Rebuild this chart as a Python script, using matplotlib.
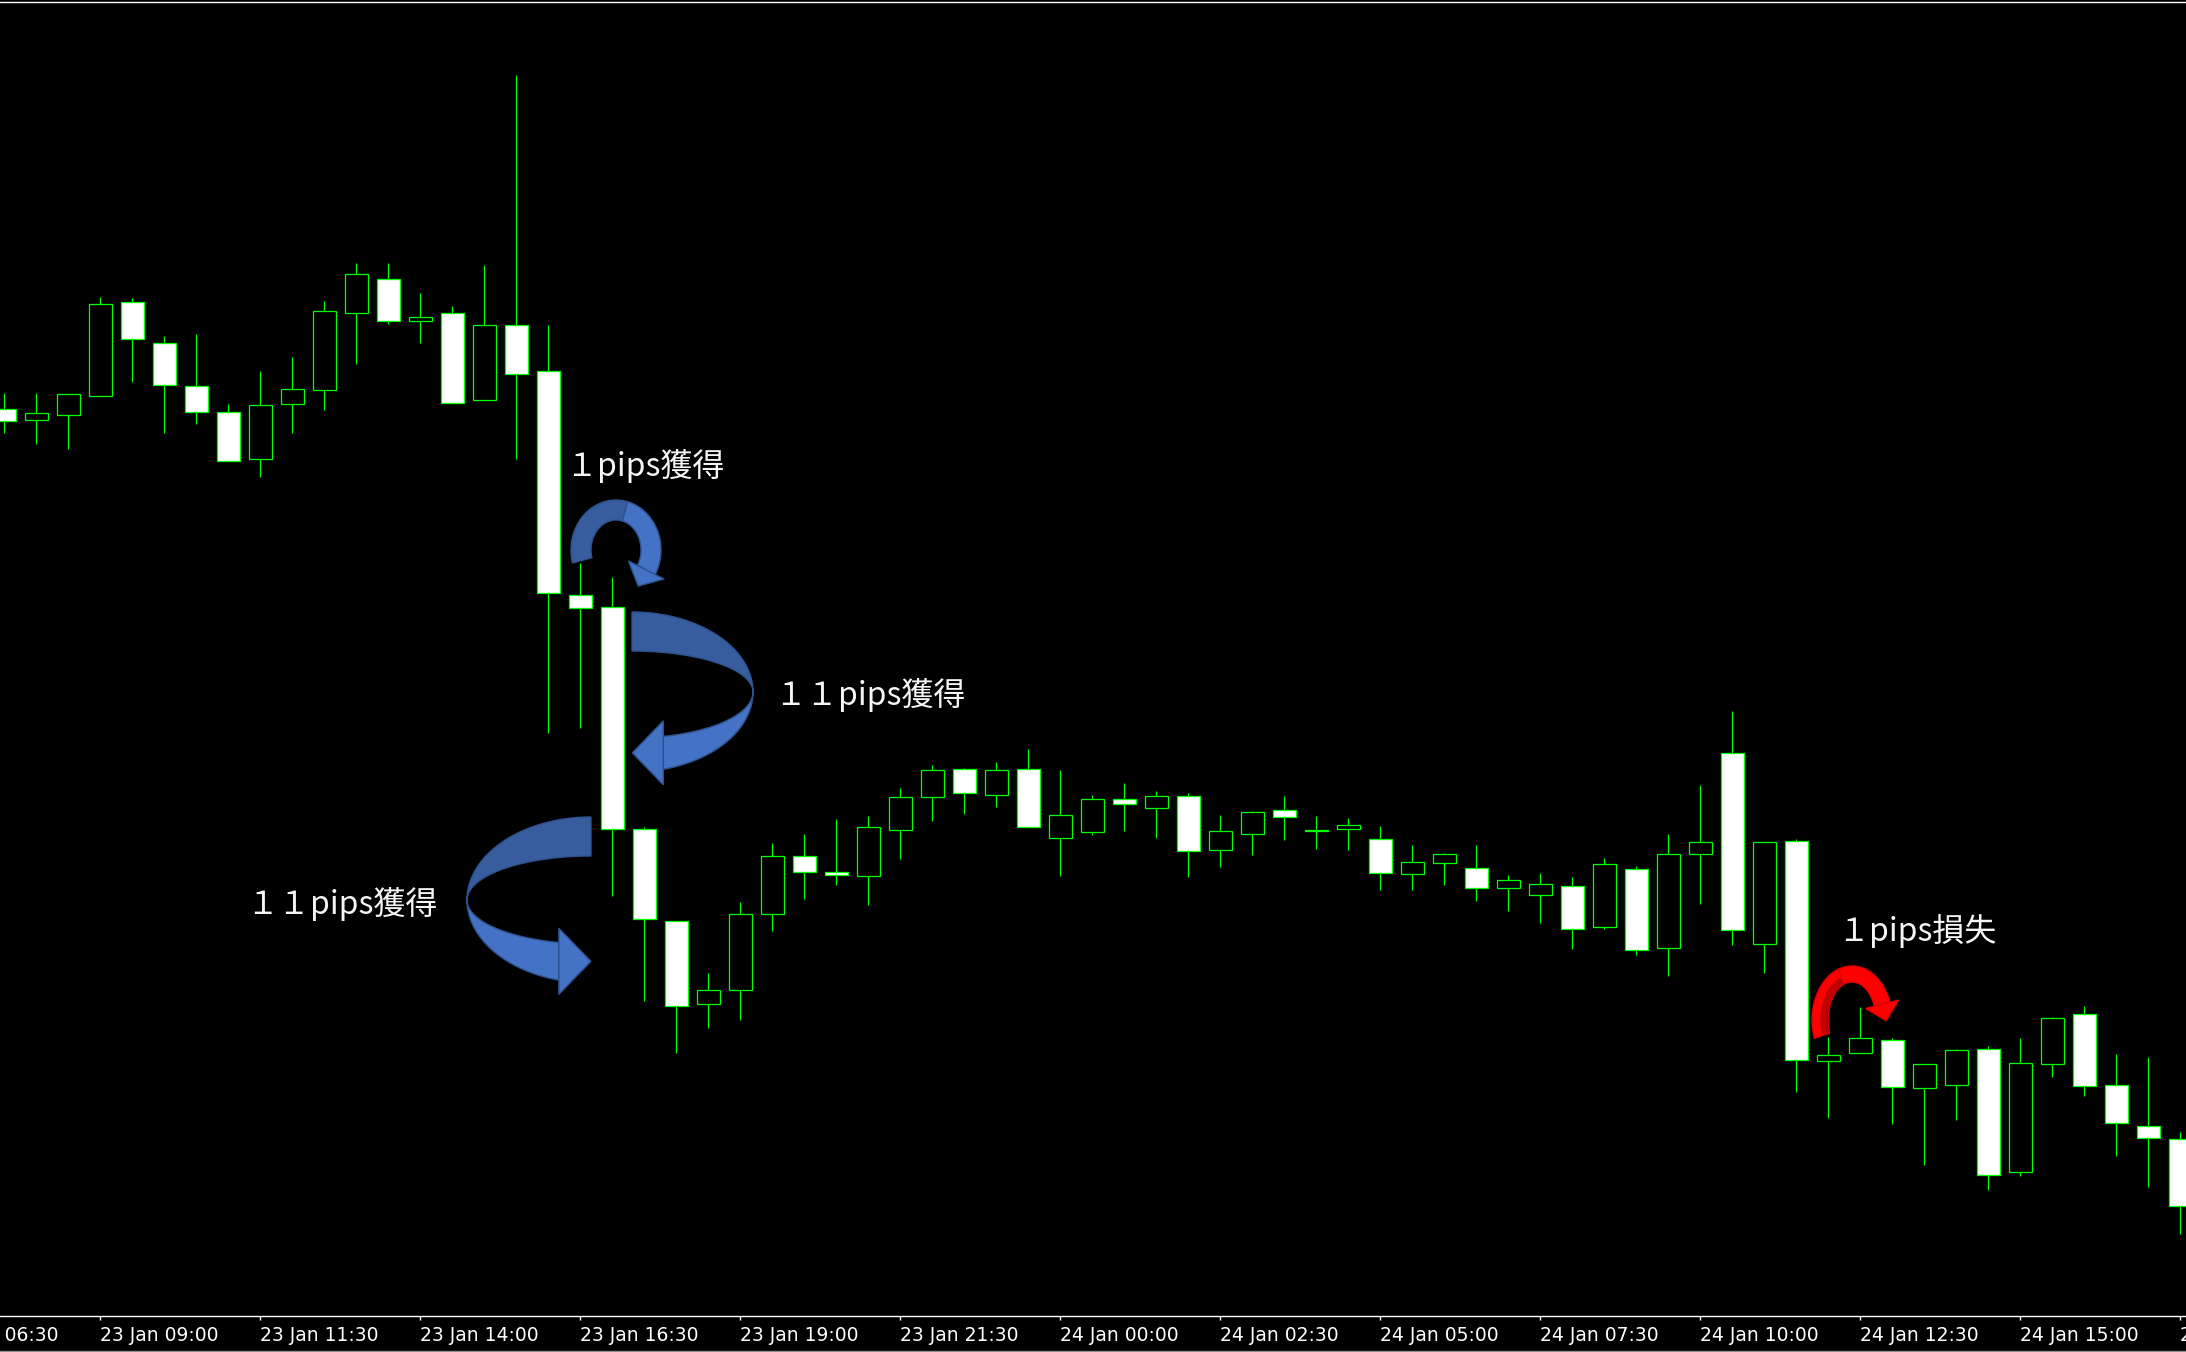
import numpy as np
import matplotlib
matplotlib.use("Agg")
import matplotlib.pyplot as plt
from matplotlib.patches import Polygon

# 30 minute candles, 23 Jan 07:30 onward (price in chart points)
opens = [943, 932, 937, 956, 1050, 1009, 966, 940, 893, 948, 962, 1039, 1073, 1031, 1039, 952, 1027,
         981, 757, 745, 523, 431, 348, 362, 438, 496, 480, 476, 522, 555, 583, 557, 583, 514, 520,
         553, 544, 556, 502, 518, 542, 521, 523, 513, 478, 489, 484, 464, 457, 466, 425, 483, 404,
         498, 599, 408, 511, 291, 299, 312, 264, 267, 303, 180, 288, 338, 267, 226, 213]
highs = [959, 959, 958, 1055, 1054, 1016, 1018, 948, 981, 995, 1051, 1089, 1089, 1059, 1046, 1087, 1277,
         1027, 789, 775, 525, 431, 379, 450, 509, 518, 533, 536, 564, 587, 584, 590, 603, 582, 557,
         569, 561, 559, 537, 541, 556, 536, 534, 526, 507, 499, 507, 477, 479, 475, 494, 486, 518,
         567, 641, 510, 513, 315, 345, 314, 288, 303, 306, 314, 335, 346, 298, 295, 220]
lows = [919, 908, 903, 956, 970, 919, 928, 891, 875, 919, 942, 988, 1028, 1009, 949, 952, 893,
        619, 624, 456, 351, 299, 324, 332, 421, 453, 467, 447, 493, 531, 538, 545, 525, 476, 517,
        521, 514, 475, 485, 497, 512, 503, 502, 462, 462, 467, 451, 441, 429, 403, 423, 397, 376,
        448, 407, 379, 260, 234, 299, 228, 187, 232, 162, 176, 275, 256, 196, 165, 118]
closes = [931, 939, 958, 1048, 1013, 967, 940, 891, 947, 963, 1041, 1078, 1031, 1035, 949, 1027, 978,
          759, 744, 523, 433, 346, 362, 438, 496, 480, 477, 525, 555, 582, 559, 582, 525, 537, 553,
          548, 556, 501, 521, 540, 535, 522, 527, 479, 490, 498, 464, 472, 468, 423, 488, 402, 498,
          510, 422, 510, 292, 297, 314, 265, 288, 302, 177, 289, 334, 266, 229, 214, 146]

tick_pos = [-2, 3, 8, 13, 18, 23, 28, 33, 38, 43, 48, 53, 58, 63, 68]
tick_labels = ["23 Jan 06:30", "23 Jan 09:00", "23 Jan 11:30", "23 Jan 14:00", "23 Jan 16:30",
               "23 Jan 19:00", "23 Jan 21:30", "24 Jan 00:00", "24 Jan 02:30", "24 Jan 05:00",
               "24 Jan 07:30", "24 Jan 10:00", "24 Jan 12:30", "24 Jan 15:00", "24 Jan 17:30"]

GREEN = "#00FF00"
W, H = 2186, 1352

fig = plt.figure(figsize=(W / 100, H / 100), dpi=100, facecolor="black")
ax = fig.add_axes([0, 0, 1, 1], facecolor="black")
ax.set_xlim(-4.3 / 32, (W - 4.3) / 32)
ax.set_ylim(0, H)
ax.axis("off")

o = np.array(opens)
c = np.array(closes)
x = np.arange(len(o))
bull = c >= o

ax.vlines(x, lows, highs, color=GREEN, lw=0.9, zorder=1)
ax.bar(x, np.abs(c - o) + 0.5, bottom=np.minimum(o, c), width=0.72,
       color=np.where(bull, "black", "white"), edgecolor=GREEN, lw=0.9, zorder=2)

# time axis
ax.axhline(36, color="white", lw=1.0, zorder=3)
ax.axhline(1350, color="white", lw=1.0, zorder=3)
ax.axhline(1, color="#909090", lw=1.0, zorder=3)
ax.vlines(tick_pos, 32, 36, color="white", lw=1.0)
for p, lab in zip(tick_pos, tick_labels):
    ax.text(p, 11, lab, color="white", fontsize=13.5, family="DejaVu Sans",
            ha="left", va="baseline", clip_on=True)

# annotations, drawn in pixel space (y down)
an = fig.add_axes([0, 0, 1, 1], facecolor="none")
an.set_xlim(0, W)
an.set_ylim(H, 0)
an.axis("off")

DARK_BLUE = "#375D9E"
LIGHT_BLUE = "#4472C4"
EDGE_BLUE = "#2F528F"


def arc(cx, cy, a, b, t0, t1, sign=1, n=80):
    t = np.radians(np.linspace(t0, t1, n))
    return np.column_stack([cx + sign * a * np.cos(t), cy - b * np.sin(t)])


def band(cx, cy, ao, bo, ai, bi, t0, t1, sign=1):
    outer = arc(cx, cy, ao, bo, t0, t1, sign)
    inner = arc(cx, cy, ai, bi, t1, t0, sign)
    return np.vstack([outer, inner])


def add(pts, color, edge=None):
    an.add_patch(Polygon(pts, closed=True, facecolor=color,
                         edgecolor=edge if edge else color, lw=1.0))


def big_arrow(cx, cy, a, bo, bi_top, bi_bot, sign, head_half, head_len):
    add(band(cx, cy, a, bo, a, bi_top, 90, 0, sign), DARK_BLUE, EDGE_BLUE)
    add(band(cx, cy, a, bo, a, bi_bot, 0, -75, sign), LIGHT_BLUE, EDGE_BLUE)
    bx = cx + sign * a * np.cos(np.radians(75))
    mid = cy + 0.5 * (bo + bi_bot) * np.sin(np.radians(75))
    add([(bx, mid - head_half), (bx, mid + head_half), (bx - sign * head_len, mid)],
        LIGHT_BLUE, EDGE_BLUE)


def curl_arrow(cx, cy, a, b, half, t0, tsplit, t1, c_start, c_end, edge, head_half, head_len):
    add(band(cx, cy, a + half, b + half, a - half, b - half, t0, tsplit), c_start, edge)
    add(band(cx, cy, a + half, b + half, a - half, b - half, tsplit, t1), c_end, edge)
    t = np.radians(t1)
    px, py = cx + a * np.cos(t), cy - b * np.sin(t)
    d = np.array([a * np.sin(t), b * np.cos(t)])
    d /= np.hypot(*d)
    nrm = np.array([d[1], -d[0]])
    add([(px + head_half * nrm[0], py + head_half * nrm[1]),
         (px - head_half * nrm[0], py - head_half * nrm[1]),
         (px + head_len * d[0], py + head_len * d[1])], c_end, edge)


big_arrow(632, 692, 121, 80, 41, 46, 1, 32, 31)
big_arrow(591, 900, 124, 83, 44, 44, -1, 33, 32)
curl_arrow(616, 550, 35, 40, 10, 195, 75, -30, DARK_BLUE, LIGHT_BLUE, EDGE_BLUE, 20, 18)

# red arrow with darker inner face on the rising side
curl_arrow(1852, 1020, 32, 46, 8, 200, 110, 20, "#FF0000", "#FF0000", "#E00000", 17, 17)
add(band(1852, 1020, 31, 45, 24, 38, 198, 112), "#C00000")

jp = ["Noto Sans CJK JP", "DejaVu Sans"]
txt = dict(color="#F5F5F5", fontsize=23, family=jp, ha="left", va="baseline")
an.text(565, 476, "１pips獲得", **txt)
an.text(774, 705, "１１pips獲得", **txt)
an.text(246, 914, "１１pips獲得", **txt)
an.text(1837, 941, "１pips損失", **txt)

fig.savefig("out.png", dpi=100, facecolor="black")
